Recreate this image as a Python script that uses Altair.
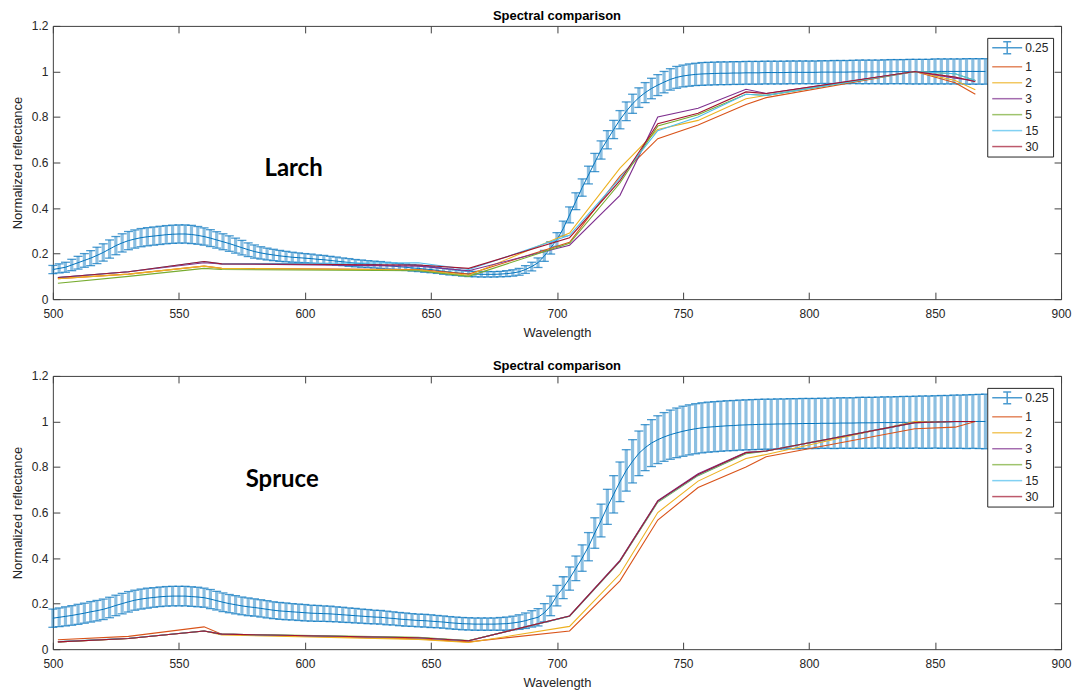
import altair as alt
import pandas as pd

# ---------------- data ----------------
wl_grid = [500 + 2.5 * i for i in range(149)]  # 500 ... 870 nm sampling of the 0.25 series

larch_mean = [
    0.130, 0.135, 0.140, 0.150, 0.160, 0.170, 0.180, 0.192, 0.205, 0.220,
    0.235, 0.247, 0.257, 0.264, 0.270, 0.274, 0.277, 0.280, 0.283, 0.285,
    0.286, 0.286, 0.284, 0.280, 0.275, 0.268, 0.260, 0.252, 0.244, 0.235,
    0.226, 0.217, 0.209, 0.203, 0.198, 0.194, 0.190, 0.187, 0.184, 0.182,
    0.180, 0.178, 0.175, 0.173, 0.170, 0.167, 0.164, 0.161, 0.158, 0.156,
    0.154, 0.152, 0.150, 0.147, 0.145, 0.142, 0.140, 0.137, 0.135, 0.132,
    0.130, 0.126, 0.122, 0.119, 0.116, 0.113, 0.111, 0.110, 0.109, 0.109,
    0.109, 0.110, 0.112, 0.115, 0.120, 0.130, 0.143, 0.160, 0.190, 0.225,
    0.262, 0.310, 0.370, 0.430, 0.490, 0.545, 0.600, 0.655, 0.700, 0.745,
    0.788, 0.825, 0.858, 0.885, 0.907, 0.925, 0.940, 0.953, 0.965, 0.974,
    0.980, 0.984, 0.987, 0.989, 0.990, 0.991, 0.992, 0.992, 0.993, 0.993,
    0.994, 0.994, 0.994, 0.995, 0.995, 0.995, 0.995, 0.996, 0.996, 0.996,
    0.996, 0.996, 0.997, 0.997, 0.997, 0.997, 0.997, 0.998, 0.998, 0.998,
    0.998, 0.998, 0.998, 0.999, 0.999, 0.999, 0.999, 0.999, 0.999, 0.999,
    1.000, 1.000, 1.000, 1.000, 1.000, 1.000, 1.000, 1.000, 1.000,
]
larch_err = [
    0.018, 0.020, 0.022, 0.025, 0.028, 0.030, 0.033, 0.036, 0.038, 0.040,
    0.040, 0.040, 0.040, 0.040, 0.040, 0.040, 0.040, 0.040, 0.040, 0.040,
    0.040, 0.040, 0.040, 0.039, 0.038, 0.037, 0.036, 0.035, 0.034, 0.033,
    0.032, 0.030, 0.029, 0.027, 0.026, 0.025, 0.024, 0.023, 0.022, 0.021,
    0.020, 0.020, 0.019, 0.019, 0.018, 0.018, 0.017, 0.017, 0.016, 0.016,
    0.015, 0.015, 0.015, 0.015, 0.014, 0.014, 0.014, 0.014, 0.014, 0.014,
    0.014, 0.013, 0.013, 0.013, 0.012, 0.012, 0.012, 0.012, 0.012, 0.012,
    0.012, 0.012, 0.013, 0.014, 0.015, 0.017, 0.019, 0.021, 0.024, 0.027,
    0.030, 0.033, 0.035, 0.037, 0.038, 0.039, 0.040, 0.040, 0.040, 0.040,
    0.040, 0.041, 0.042, 0.043, 0.044, 0.045, 0.046, 0.047, 0.047, 0.048,
    0.048, 0.049, 0.049, 0.050, 0.050, 0.050, 0.050, 0.050, 0.050, 0.050,
    0.050, 0.050, 0.050, 0.050, 0.050, 0.050, 0.050, 0.050, 0.050, 0.050,
    0.050, 0.050, 0.050, 0.050, 0.051, 0.051, 0.051, 0.051, 0.052, 0.052,
    0.052, 0.052, 0.053, 0.053, 0.053, 0.053, 0.054, 0.054, 0.054, 0.054,
    0.055, 0.055, 0.055, 0.055, 0.055, 0.056, 0.056, 0.056, 0.056,
]
spruce_mean = [
    0.136, 0.140, 0.144, 0.148, 0.153, 0.158, 0.164, 0.169, 0.175, 0.183,
    0.192, 0.200, 0.208, 0.215, 0.220, 0.224, 0.227, 0.230, 0.232, 0.233,
    0.233, 0.233, 0.231, 0.229, 0.226, 0.220, 0.213, 0.206, 0.200, 0.195,
    0.190, 0.186, 0.183, 0.179, 0.175, 0.171, 0.168, 0.166, 0.164, 0.162,
    0.160, 0.158, 0.157, 0.156, 0.155, 0.153, 0.151, 0.149, 0.147, 0.145,
    0.143, 0.141, 0.140, 0.137, 0.135, 0.132, 0.130, 0.128, 0.126, 0.125,
    0.123, 0.121, 0.119, 0.116, 0.114, 0.112, 0.111, 0.110, 0.110, 0.110,
    0.110, 0.111, 0.112, 0.115, 0.119, 0.125, 0.133, 0.140, 0.160, 0.190,
    0.235, 0.270, 0.310, 0.355, 0.400, 0.450, 0.510, 0.565, 0.625, 0.680,
    0.735, 0.785, 0.825, 0.860, 0.885, 0.905, 0.920, 0.932, 0.942, 0.950,
    0.957, 0.963, 0.968, 0.972, 0.975, 0.977, 0.979, 0.981, 0.982, 0.984,
    0.985, 0.986, 0.987, 0.988, 0.988, 0.989, 0.989, 0.990, 0.990, 0.991,
    0.991, 0.991, 0.992, 0.992, 0.992, 0.993, 0.993, 0.993, 0.994, 0.994,
    0.994, 0.995, 0.995, 0.995, 0.996, 0.996, 0.996, 0.997, 0.997, 0.997,
    0.998, 0.998, 0.998, 0.999, 0.999, 0.999, 1.000, 1.000, 1.000,
]
spruce_err = [
    0.040, 0.041, 0.042, 0.043, 0.044, 0.044, 0.045, 0.045, 0.045, 0.045,
    0.045, 0.045, 0.045, 0.044, 0.044, 0.044, 0.043, 0.043, 0.043, 0.043,
    0.043, 0.043, 0.043, 0.043, 0.042, 0.042, 0.041, 0.041, 0.040, 0.040,
    0.039, 0.039, 0.038, 0.038, 0.038, 0.037, 0.037, 0.037, 0.036, 0.036,
    0.036, 0.035, 0.035, 0.034, 0.034, 0.033, 0.033, 0.032, 0.032, 0.031,
    0.031, 0.030, 0.030, 0.030, 0.029, 0.029, 0.029, 0.028, 0.028, 0.028,
    0.028, 0.027, 0.027, 0.027, 0.027, 0.027, 0.027, 0.027, 0.027, 0.027,
    0.027, 0.028, 0.029, 0.030, 0.032, 0.034, 0.036, 0.038, 0.040, 0.043,
    0.045, 0.048, 0.051, 0.054, 0.058, 0.062, 0.067, 0.072, 0.077, 0.082,
    0.087, 0.091, 0.095, 0.098, 0.101, 0.103, 0.105, 0.107, 0.108, 0.109,
    0.110, 0.110, 0.110, 0.110, 0.110, 0.110, 0.110, 0.110, 0.110, 0.110,
    0.110, 0.110, 0.110, 0.110, 0.110, 0.110, 0.110, 0.110, 0.110, 0.110,
    0.110, 0.110, 0.110, 0.110, 0.111, 0.111, 0.111, 0.111, 0.112, 0.112,
    0.112, 0.112, 0.113, 0.113, 0.113, 0.114, 0.114, 0.114, 0.115, 0.115,
    0.115, 0.116, 0.116, 0.117, 0.117, 0.118, 0.118, 0.119, 0.120,
]

band_wl = [502, 530, 560, 567, 645, 665, 705, 725, 740, 756, 775, 783, 842, 858, 866]
series_names = ["1", "2", "3", "5", "15", "30"]
larch_lines = {
    "1":  [0.090, 0.110, 0.145, 0.135, 0.130, 0.110, 0.250, 0.540, 0.705, 0.765, 0.855, 0.885, 1.000, 0.950, 0.900],
    "2":  [0.090, 0.110, 0.145, 0.135, 0.128, 0.105, 0.290, 0.575, 0.745, 0.785, 0.880, 0.895, 1.000, 0.960, 0.920],
    "3":  [0.095, 0.120, 0.160, 0.155, 0.145, 0.125, 0.237, 0.456, 0.800, 0.838, 0.922, 0.903, 1.000, 0.970, 0.960],
    "5":  [0.070, 0.100, 0.135, 0.130, 0.125, 0.100, 0.245, 0.510, 0.760, 0.810, 0.900, 0.895, 1.000, 0.990, 0.960],
    "15": [0.095, 0.120, 0.165, 0.155, 0.160, 0.130, 0.280, 0.530, 0.740, 0.800, 0.900, 0.895, 1.000, 0.990, 0.960],
    "30": [0.095, 0.120, 0.165, 0.155, 0.150, 0.135, 0.270, 0.520, 0.770, 0.816, 0.910, 0.903, 1.000, 0.975, 0.955],
}
spruce_lines = {
    "1":  [0.041, 0.056, 0.098, 0.066, 0.045, 0.032, 0.080, 0.300, 0.567, 0.710, 0.800, 0.845, 0.968, 0.975, 1.000],
    "2":  [0.032, 0.047, 0.080, 0.062, 0.043, 0.029, 0.100, 0.330, 0.600, 0.738, 0.837, 0.855, 1.000, 1.000, 1.000],
    "3":  [0.032, 0.047, 0.080, 0.066, 0.050, 0.037, 0.146, 0.390, 0.652, 0.770, 0.865, 0.870, 0.995, 1.000, 1.000],
    "5":  [0.032, 0.047, 0.080, 0.066, 0.052, 0.038, 0.144, 0.385, 0.645, 0.762, 0.858, 0.870, 0.995, 1.000, 1.000],
    "15": [0.033, 0.048, 0.080, 0.066, 0.050, 0.037, 0.145, 0.387, 0.648, 0.765, 0.862, 0.870, 0.995, 1.000, 1.000],
    "30": [0.032, 0.047, 0.080, 0.066, 0.050, 0.037, 0.146, 0.388, 0.650, 0.767, 0.863, 0.870, 0.995, 1.000, 1.000],
}

legend_labels = ["0.25", "1", "2", "3", "5", "15", "30"]
legend_colors = ["#0072BD", "#D95319", "#EDB120", "#7E2F8E", "#77AC30", "#4DBEEE", "#A2142F"]
err_symbol = "M-1,0H5M2,-1.2V1.2M1.2,-1.2H2.8M1.2,1.2H2.8"
line_symbol = "M-1,0H5"
legend_shapes = [err_symbol] + [line_symbol] * 6

x_ticks = [500, 550, 600, 650, 700, 750, 800, 850, 900]
y_ticks = [0, 0.2, 0.4, 0.6, 0.8, 1, 1.2]

annot_text = ["Larch", "Spruce"]
annot_wl = [595.5, 591]
annot_val = [0.54, 0.71]

# ---------------- chart ----------------
FONT = "Liberation Sans"
TXT = "#262626"
xs = alt.Scale(domain=[500, 900], nice=False, zero=False)
ys = alt.Scale(domain=[0, 1.2], nice=False, zero=True)
# legend scales (all 7 entries) and the spectra stroke scale (6 entries, different domain
# so its disabled legend is not merged with the visible one)
cs = alt.Scale(domain=legend_labels, range=legend_colors)
ss = alt.Scale(domain=legend_labels, range=legend_shapes)
line_scale = alt.Scale(domain=series_names, range=legend_colors[1:])


def make_legend():
    return alt.Legend(
        orient="none", legendX=937, legendY=12, title=None,
        strokeColor="#262626", fillColor="white", padding=4,
        labelFont=FONT, labelFontSize=12, labelColor=TXT,
        symbolSize=100, symbolStrokeWidth=1.5,
        labelOffset=22, rowPadding=4, cornerRadius=0,
    )


def panel(mean, err, lines, idx):
    err_df = pd.DataFrame({
        "wl": wl_grid,
        "mean": mean,
        "lo": [m - e for m, e in zip(mean, err)],
        "hi": [m + e for m, e in zip(mean, err)],
    })
    rows = []
    for k, s in enumerate(series_names):
        for w, v in zip(band_wl, lines[s]):
            rows.append({"wl": w, "val": v, "series": s, "k": k})
    line_df = pd.DataFrame(rows)
    ann_df = pd.DataFrame({"t": [annot_text[idx]], "wl": [annot_wl[idx]], "val": [annot_val[idx]]})

    x_bottom = alt.Axis(orient="bottom", values=x_ticks, format="d", offset=-7, tickSize=7,
                        domain=False, grid=False, labelPadding=9, labelFlush=False,
                        title="Wavelength", titlePadding=7)
    x_top = alt.Axis(orient="top", values=x_ticks, offset=-7, tickSize=7, domain=False,
                     grid=False, labels=False, title=None)
    y_left = alt.Axis(orient="left", values=y_ticks, format="~g", offset=-7, tickSize=7,
                      domain=False, grid=False, labelPadding=5, labelFlush=False,
                      title="Normalized reflectance", titlePadding=7)
    y_right = alt.Axis(orient="right", values=y_ticks, offset=-7, tickSize=7, domain=False,
                       grid=False, labels=False, title=None)

    base = alt.Chart(err_df)
    bars = base.mark_rule(color="#0072BD", strokeWidth=3.2, opacity=0.45).encode(
        x=alt.X("wl:Q", scale=xs, axis=x_bottom),
        y=alt.Y("lo:Q", scale=ys, axis=y_left),
        y2="hi:Q",
    )
    cap_lo = base.mark_tick(color="#0072BD", orient="horizontal", size=9, thickness=1.3).encode(
        x=alt.X("wl:Q", scale=xs, axis=None),
        y=alt.Y("lo:Q", scale=ys, axis=None),
    )
    cap_hi = base.mark_tick(color="#0072BD", orient="horizontal", size=9, thickness=1.3).encode(
        x=alt.X("wl:Q", scale=xs, axis=None),
        y=alt.Y("hi:Q", scale=ys, axis=None),
    )
    mean_line = base.mark_line(color="#0072BD", strokeWidth=1).encode(
        x=alt.X("wl:Q", scale=xs, axis=x_top),
        y=alt.Y("mean:Q", scale=ys, axis=y_right),
    )
    lns = alt.Chart(line_df).mark_line(strokeWidth=1.1).encode(
        x=alt.X("wl:Q", scale=xs, axis=None),
        y=alt.Y("val:Q", scale=ys, axis=None),
        stroke=alt.Stroke("series:N", scale=line_scale, legend=None),
        order=alt.Order("k:Q"),
    )
    leg = alt.Chart(line_df).transform_filter("datum.wl < 0").mark_point(
        filled=False, size=100, strokeWidth=1.5
    ).encode(
        x=alt.X("wl:Q", scale=xs, axis=None),
        y=alt.Y("val:Q", scale=ys, axis=None),
        color=alt.Color("series:N", scale=cs, legend=make_legend()),
        shape=alt.Shape("series:N", scale=ss, legend=make_legend()),
    )
    txt = alt.Chart(ann_df).mark_text(font="Lato", fontSize=24, fontWeight="bold",
                                       align="center", baseline="alphabetic",
                                       color="black").encode(
        x=alt.X("wl:Q", scale=xs, axis=None),
        y=alt.Y("val:Q", scale=ys, axis=None),
        text="t:N",
    )
    return alt.layer(bars, cap_lo, cap_hi, mean_line, lns, leg, txt).resolve_axis(
        x="independent", y="independent"
    ).properties(
        width=1011, height=274,
        title=alt.TitleParams("Spectral comparison", font=FONT, fontSize=13,
                              fontWeight="bold", color="black", anchor="middle", offset=-3),
    )


top = panel(larch_mean, larch_err, larch_lines, 0)
bottom = panel(spruce_mean, spruce_err, spruce_lines, 1)

chart = alt.vconcat(top, bottom, spacing=19).resolve_scale(
    color="independent", shape="independent", stroke="independent"
).resolve_legend(
    color="independent", shape="independent", stroke="independent"
).properties(
    padding={"left": 10, "top": 8, "right": 5, "bottom": 5},
    background="white",
).configure_view(
    stroke="#404040", strokeWidth=1
).configure_axis(
    labelFont=FONT, labelFontSize=12, labelColor=TXT,
    titleFont=FONT, titleFontSize=13, titleFontWeight="normal", titleColor=TXT,
    tickColor="#404040", tickWidth=1,
)

chart.save("out.html", embed_options={"renderer": "svg", "actions": False})
